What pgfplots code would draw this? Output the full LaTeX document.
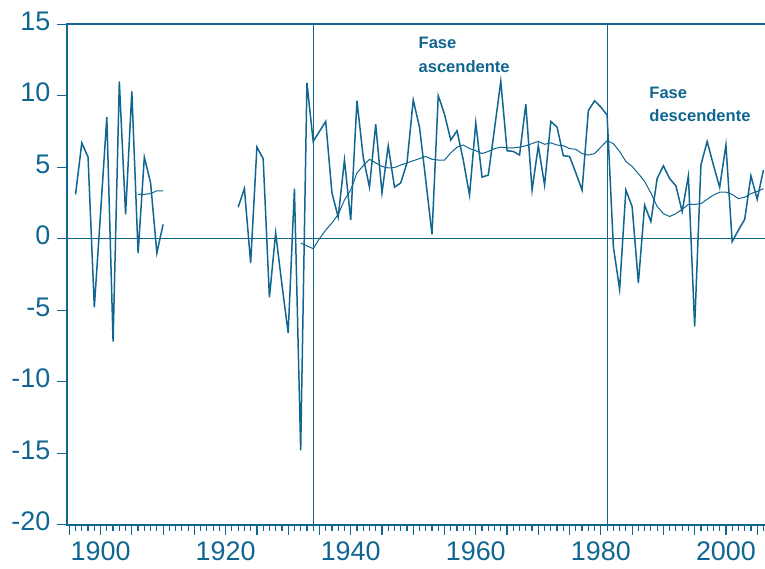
\documentclass[border=0pt]{standalone}
\usepackage{pgfplots}
\pgfplotsset{compat=1.18}
\usepackage{fontspec}
\setmainfont{Liberation Sans}
\definecolor{bl}{RGB}{16,102,145}

\pgfplotstableread{
year v
1896 3.1
1897 6.7
1898 5.7
1899 -4.8
1900 1.8
1901 8.5
1902 -7.2
1903 11.0
1904 1.7
1905 10.3
1906 -1.0
1907 5.7
1908 3.9
1909 -1.0
1910 1.0
}\earlyseries

\pgfplotstableread{
year v
1906 3.1
1907 3.1
1908 3.15
1909 3.35
1910 3.35
}\earlyma

\pgfplotstableread{
year v
1922 2.2
1923 3.5
1924 -1.7
1925 6.4
1926 5.6
1927 -4.1
1928 0.4
1929 -3.2
1930 -6.6
1931 3.5
1932 -14.8
1933 10.9
1934 6.8
1935 7.5
1936 8.2
1937 3.2
1938 1.5
1939 5.5
1940 1.3
1941 9.65
1942 5.7
1943 3.6
1944 8.0
1945 3.2
1946 6.5
1947 3.6
1948 3.9
1949 5.3
1950 9.7
1951 7.8
1952 4.1
1953 0.3
1954 10.0
1955 8.7
1956 6.9
1957 7.55
1958 5.5
1959 3.05
1960 8.1
1961 4.3
1962 4.45
1963 7.7
1964 11.0
1965 6.15
1966 6.1
1967 5.85
1968 9.4
1969 3.4
1970 6.5
1971 3.75
1972 8.2
1973 7.8
1974 5.8
1975 5.75
1976 4.6
1977 3.4
1978 8.95
1979 9.65
1980 9.2
1981 8.65
1982 -0.55
1983 -3.55
1984 3.4
1985 2.25
1986 -3.1
1987 2.35
1988 1.2
1989 4.2
1990 5.1
1991 4.2
1992 3.7
1993 1.9
1994 4.4
1995 -6.15
1996 5.15
1997 6.8
1998 5.15
1999 3.6
2000 6.55
2001 -0.2
2002 0.6
2003 1.35
2004 4.4
2005 2.75
2006 4.8
}\mainseries

\pgfplotstableread{
year v
1932 -0.3
1933 -0.5
1934 -0.7
1935 0.0
1936 0.6
1937 1.1
1938 1.7
1939 2.7
1940 3.4
1941 4.6
1942 5.1
1943 5.55
1944 5.3
1945 5.05
1946 4.95
1947 4.97
1948 5.15
1949 5.3
1950 5.45
1951 5.6
1952 5.75
1953 5.55
1954 5.5
1955 5.5
1956 6.0
1957 6.4
1958 6.55
1959 6.3
1960 6.15
1961 5.95
1962 6.1
1963 6.3
1964 6.4
1965 6.35
1966 6.35
1967 6.4
1968 6.5
1969 6.65
1970 6.8
1971 6.6
1972 6.7
1973 6.55
1974 6.5
1975 6.3
1976 6.25
1977 5.95
1978 5.85
1979 5.95
1980 6.4
1981 6.85
1982 6.65
1983 6.1
1984 5.4
1985 5.05
1986 4.55
1987 4.0
1988 3.2
1989 2.25
1990 1.75
1991 1.55
1992 1.75
1993 2.05
1994 2.4
1995 2.4
1996 2.45
1997 2.75
1998 3.05
1999 3.25
2000 3.25
2001 3.1
2002 2.8
2003 2.9
2004 3.15
2005 3.3
2006 3.5
}\mainma

\begin{document}
\begin{tikzpicture}
\begin{axis}[name=ax,
  width=348.85bp, height=250.25bp, scale only axis,
  xmin=1894.68, xmax=2006.25, ymin=-20, ymax=15,
  clip=false,
  axis line style={draw=none},
  tick align=outside,
  xtick pos=bottom, ytick pos=left,
  xtick={1900,1920,1940,1960,1980,2000},
  xticklabels={1900,1920,1940,1960,1980,2000},
  extra x ticks={1895,1905,1910,1915,1925,1930,1935,1945,1950,1955,1965,1970,1975,1985,1990,1995,2005},
  extra x tick labels={},
  minor xtick={1895,1896,...,2006},
  minor tick length=3bp,
  major tick length=5bp,
  ytick={-20,-15,-10,-5,0,5,10,15},
  yticklabels={-20,-15,-10,-5,0,5,10,15},
  every tick/.style={bl, line width=0.6bp},
  minor tick style={bl, line width=0.6bp},
  tick label style={text=bl, font=\fontsize{13.5}{15}\selectfont},
  yticklabel style={yshift=1.5bp},
  /pgf/number format/assume math mode=true,
]
\addplot[bl, line width=0.75bp] table[x=year,y=v] {\earlyseries};
\addplot[bl, line width=0.5bp] table[x=year,y=v] {\earlyma};
\addplot[bl, line width=0.75bp] table[x=year,y=v] {\mainseries};
\addplot[bl, line width=0.5bp] table[x=year,y=v] {\mainma};
\addplot[bl, line width=0.6bp] coordinates {(1894.68,0) (2006.25,0)};
\addplot[bl, line width=0.6bp] coordinates {(1934,-20) (1934,15)};
\addplot[bl, line width=0.6bp] coordinates {(1981,-20) (1981,15)};
\draw[bl, line width=1.1bp] (rel axis cs:1,1) -- (rel axis cs:0,1) -- (rel axis cs:0,0) -- (rel axis cs:1,0);
\node[anchor=north west, align=left, inner sep=0pt, text=bl,
  font=\bfseries\fontsize{8.3}{11.7}\selectfont] at (axis cs:1950.8,14.1) {Fase\\ascendente};
\node[anchor=north west, align=left, inner sep=0pt, text=bl,
  font=\bfseries\fontsize{8.3}{11.7}\selectfont] at (axis cs:1987.7,10.63) {Fase\\descendente};
\end{axis}
\pgfresetboundingbox
\path ([shift={(-33.65bp,-22.15bp)}]ax.south west) rectangle ([shift={(0bp,12.1bp)}]ax.north east);
\end{tikzpicture}
\end{document}
